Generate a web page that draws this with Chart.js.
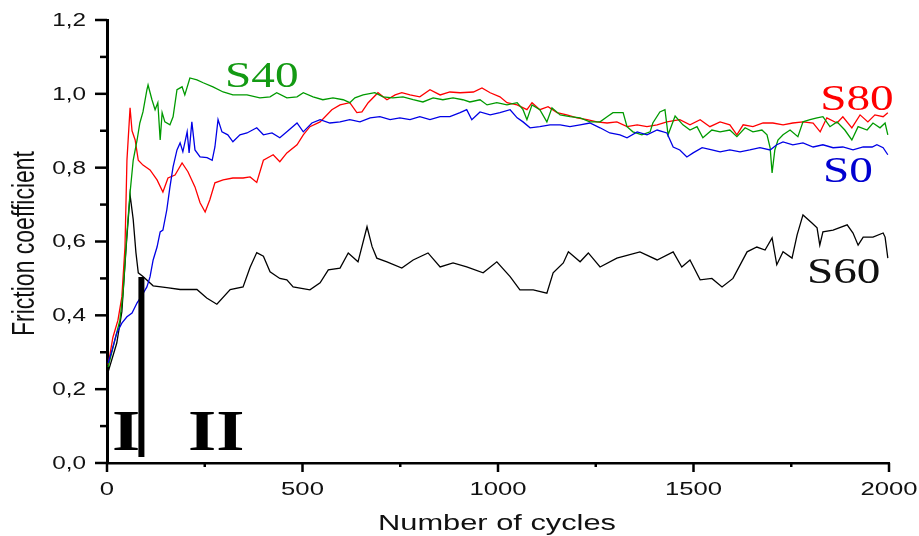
<!DOCTYPE html>
<html>
<head>
<meta charset="utf-8">
<script src="https://cdn.jsdelivr.net/npm/chart.js@4.4.1/dist/chart.umd.min.js"></script>
<style>
  html, body { margin: 0; padding: 0; background: #fff; }
  #wrap { width: 919px; height: 536px; position: relative; }
</style>
</head>
<body>
<div id="wrap"><canvas id="chart"></canvas></div>
<script>
// ---- data: [cycles, friction coefficient] ----
const s0 = [
  [3,0.271],[13,0.306],[25,0.352],[38,0.379],[51,0.396],[64,0.406],[77,0.434],[90,0.455],[102,0.477],[110,0.504],
  [118,0.55],[128,0.585],[136,0.626],[143,0.631],[153,0.686],[161,0.748],[169,0.802],[179,0.848],[187,0.867],[194,0.843],
  [205,0.897],[210,0.84],[217,0.924],[225,0.848],[238,0.829],[256,0.827],[269,0.82],[276,0.856],[284,0.93],[294,0.897],
  [309,0.889],[322,0.87],[340,0.889],[358,0.894],[383,0.908],[400,0.889],[422,0.894],[442,0.881],[460,0.897],[486,0.921],
  [502,0.897],[524,0.921],[545,0.93],[570,0.921],[596,0.924],[621,0.93],[647,0.924],[673,0.935],[698,0.938],[724,0.93],
  [749,0.935],[775,0.93],[800,0.938],[826,0.93],[852,0.938],[877,0.938],[903,0.949],[920,0.957],[933,0.93],[954,0.951],
  [980,0.943],[1005,0.949],[1031,0.957],[1049,0.935],[1064,0.924],[1082,0.908],[1107,0.911],[1133,0.916],[1159,0.916],[1184,0.911],
  [1210,0.916],[1235,0.921],[1261,0.908],[1286,0.894],[1312,0.889],[1330,0.881],[1356,0.897],[1381,0.889],[1407,0.902],[1432,0.894],
  [1448,0.856],[1465,0.848],[1483,0.829],[1499,0.84],[1522,0.854],[1547,0.848],[1568,0.843],[1593,0.848],[1619,0.843],[1644,0.848],
  [1670,0.854],[1696,0.848],[1713,0.862],[1729,0.87],[1754,0.862],[1780,0.867],[1806,0.856],[1831,0.862],[1857,0.854],[1882,0.856],
  [1908,0.848],[1934,0.856],[1957,0.856],[1969,0.862],[1985,0.854],[1997,0.835]
];

const s40 = [
  [3,0.26],[20,0.333],[33,0.387],[41,0.46],[51,0.623],[59,0.732],[67,0.82],[77,0.875],[84,0.921],[92,0.951],
  [102,1.011],[105,1.024],[115,0.984],[123,0.957],[130,0.976],[136,0.875],[141,0.949],[148,0.924],[161,0.916],[169,0.938],
  [179,1.011],[192,1.019],[199,0.997],[212,1.043],[230,1.038],[246,1.03],[271,1.019],[297,1.005],[322,0.997],[358,0.997],
  [391,0.989],[417,0.992],[434,1.003],[460,0.989],[486,0.992],[502,1.003],[527,0.992],[552,0.984],[578,0.989],[604,0.984],
  [621,0.976],[634,0.989],[655,0.997],[685,1.003],[706,0.992],[731,0.989],[757,0.992],[783,0.984],[808,0.978],[834,0.989],
  [859,0.984],[885,0.989],[910,0.984],[928,0.978],[954,0.984],[972,0.97],[997,0.976],[1023,0.97],[1049,0.976],[1064,0.957],
  [1074,0.93],[1087,0.97],[1107,0.957],[1125,0.924],[1138,0.962],[1159,0.943],[1184,0.938],[1210,0.935],[1235,0.924],[1261,0.924],
  [1279,0.938],[1294,0.949],[1320,0.949],[1330,0.911],[1345,0.897],[1368,0.889],[1389,0.897],[1396,0.921],[1414,0.951],[1427,0.957],
  [1435,0.889],[1453,0.94],[1473,0.916],[1491,0.902],[1509,0.911],[1524,0.881],[1547,0.902],[1568,0.897],[1593,0.902],[1611,0.884],
  [1632,0.908],[1652,0.897],[1675,0.902],[1688,0.889],[1696,0.854],[1701,0.786],[1708,0.848],[1716,0.875],[1729,0.889],[1747,0.902],
  [1767,0.884],[1780,0.924],[1798,0.93],[1816,0.935],[1831,0.938],[1849,0.911],[1867,0.924],[1887,0.902],[1905,0.875],[1921,0.911],
  [1944,0.902],[1959,0.921],[1977,0.908],[1990,0.921],[1997,0.889]
];

const s60 = [
  [3,0.247],[25,0.325],[38,0.41],[49,0.585],[59,0.726],[67,0.66],[74,0.57],[80,0.515],[92,0.505],[118,0.48],
  [153,0.475],[187,0.47],[230,0.47],[255,0.447],[281,0.43],[315,0.47],[348,0.477],[366,0.53],[383,0.57],[400,0.56],
  [417,0.518],[442,0.5],[460,0.496],[476,0.477],[519,0.469],[545,0.488],[566,0.523],[596,0.528],[617,0.569],[642,0.545],
  [665,0.64],[678,0.586],[690,0.555],[716,0.545],[754,0.528],[783,0.55],[821,0.569],[852,0.531],[885,0.542],[920,0.531],
  [962,0.515],[997,0.545],[1031,0.505],[1056,0.469],[1090,0.469],[1125,0.46],[1141,0.515],[1167,0.542],[1180,0.572],[1210,0.545],
  [1231,0.569],[1261,0.531],[1304,0.555],[1363,0.572],[1407,0.55],[1448,0.572],[1470,0.531],[1491,0.55],[1517,0.496],[1547,0.5],
  [1573,0.477],[1601,0.5],[1637,0.572],[1662,0.585],[1683,0.577],[1701,0.61],[1713,0.537],[1729,0.572],[1752,0.555],[1765,0.618],
  [1780,0.672],[1803,0.65],[1816,0.637],[1823,0.59],[1831,0.626],[1857,0.631],[1893,0.645],[1908,0.623],[1921,0.59],[1934,0.612],
  [1959,0.612],[1985,0.623],[1990,0.612],[1997,0.555]
];

const s80 = [
  [3,0.266],[15,0.34],[28,0.387],[38,0.45],[46,0.585],[51,0.82],[59,0.962],[64,0.9],[72,0.875],[80,0.82],
  [92,0.807],[110,0.794],[128,0.767],[143,0.734],[156,0.772],[174,0.78],[192,0.813],[207,0.789],[225,0.748],[238,0.705],
  [251,0.68],[263,0.713],[276,0.759],[297,0.767],[322,0.772],[348,0.772],[366,0.775],[383,0.76],[400,0.82],[425,0.835],
  [442,0.816],[460,0.84],[486,0.862],[502,0.889],[519,0.911],[545,0.924],[575,0.957],[596,0.97],[621,0.976],[639,0.949],
  [652,0.951],[668,0.976],[693,1.003],[716,0.984],[737,0.997],[754,1.003],[775,0.997],[800,0.992],[826,1.011],[852,0.997],
  [877,1.005],[903,1.003],[937,1.005],[959,1.016],[980,1.003],[1005,0.992],[1023,0.976],[1049,0.97],[1074,0.957],[1087,0.976],
  [1107,0.957],[1128,0.965],[1151,0.949],[1176,0.943],[1202,0.935],[1228,0.93],[1253,0.924],[1279,0.921],[1304,0.924],[1330,0.911],
  [1356,0.916],[1381,0.911],[1407,0.916],[1432,0.924],[1465,0.93],[1491,0.916],[1517,0.93],[1542,0.911],[1568,0.924],[1593,0.916],
  [1611,0.889],[1627,0.916],[1652,0.911],[1678,0.921],[1703,0.921],[1729,0.916],[1754,0.921],[1780,0.924],[1806,0.921],[1824,0.897],
  [1841,0.935],[1867,0.921],[1882,0.938],[1905,0.908],[1926,0.943],[1946,0.924],[1964,0.943],[1985,0.938],[1997,0.949]
];

// boundary between stage I and stage II
const stageBoundary = [[88,0.016],[88,0.504]];

// axis ticks
const xMajorTicks = [0, 500, 1000, 1500, 2000];
const xMinorTicks = [250, 750, 1250, 1750];
const xTickLabels = ['0', '500', '1000', '1500', '2000'];
const yMajorTicks = [0, 0.2, 0.4, 0.6, 0.8, 1.0, 1.2];
const yMinorTicks = [0.1, 0.3, 0.5, 0.7, 0.9, 1.1];
const yTickLabels = ['0,0', '0,2', '0,4', '0,6', '0,8', '1,0', '1,2'];

const toXY = arr => arr.map(p => ({ x: p[0], y: p[1] }));

// text labels inside the plot (anchored in data units)
const notes = [
  { text: 'S40', x: 302, y: 1.019, color: '#139a13', font: '35px "Liberation Serif"' },
  { text: 'S80', x: 1824, y: 0.957, color: '#ff0000', font: '35px "Liberation Serif"' },
  { text: 'S0',  x: 1831, y: 0.761, color: '#0000d0', font: '35px "Liberation Serif"' },
  { text: 'S60', x: 1790, y: 0.488, color: '#111111', font: '35px "Liberation Serif"' },
  { text: 'I',   x: 13,   y: 0.035, color: '#000000', font: 'bold 58px "Liberation Serif"' },
  { text: 'II',  x: 207,  y: 0.035, color: '#000000', font: 'bold 58px "Liberation Serif"' }
];

// the source figure is stretched sideways, so text is drawn wider than normal
function drawText(ctx, s, x, y, font, color, align, baseline, sx) {
  ctx.save();
  ctx.translate(x, y);
  ctx.scale(sx, 1);
  ctx.font = font;
  ctx.fillStyle = color;
  ctx.textAlign = align;
  ctx.textBaseline = baseline;
  ctx.fillText(s, 0, 0);
  ctx.restore();
}

const axisDecor = {
  id: 'axisDecor',
  afterDraw(chart) {
    const { ctx, chartArea } = chart;
    const xs = chart.scales.x, ys = chart.scales.y;
    const tick = (x1, y1, x2, y2) => {
      ctx.beginPath(); ctx.moveTo(x1, y1); ctx.lineTo(x2, y2); ctx.stroke();
    };
    ctx.save();
    ctx.strokeStyle = '#000';
    ctx.lineWidth = 2.5;
    yMajorTicks.forEach(v => { const p = ys.getPixelForValue(v); tick(chartArea.left - 12, p, chartArea.left, p); });
    yMinorTicks.forEach(v => { const p = ys.getPixelForValue(v); tick(chartArea.left - 7, p, chartArea.left, p); });
    xMajorTicks.forEach(v => { const p = xs.getPixelForValue(v); tick(p, chartArea.bottom, p, chartArea.bottom + 9); });
    xMinorTicks.forEach(v => { const p = xs.getPixelForValue(v); tick(p, chartArea.bottom, p, chartArea.bottom + 4); });
    ctx.restore();

    yMajorTicks.forEach((v, i) => {
      drawText(ctx, yTickLabels[i], chartArea.left - 21, ys.getPixelForValue(v) + 1,
        '18px "Liberation Sans"', '#111', 'right', 'middle', 1.35);
    });
    xMajorTicks.forEach((v, i) => {
      drawText(ctx, xTickLabels[i], xs.getPixelForValue(v), chartArea.bottom + 32,
        '19px "Liberation Sans"', '#111', 'center', 'alphabetic', 1.35);
    });

    // axis titles
    drawText(ctx, 'Number of cycles', (chartArea.left + chartArea.right) / 2 - 1, chartArea.bottom + 67,
      '22px "Liberation Sans"', '#111', 'center', 'alphabetic', 1.4);
    ctx.save();
    ctx.translate(25, (chartArea.top + chartArea.bottom) / 2 + 2);
    ctx.scale(1.35, 1);
    ctx.rotate(-Math.PI / 2);
    ctx.font = '23px "Liberation Sans"';
    ctx.fillStyle = '#111';
    ctx.textAlign = 'center';
    ctx.textBaseline = 'middle';
    ctx.fillText('Friction coefficient', 0, 0);
    ctx.restore();

    notes.forEach(n => {
      drawText(ctx, n.text, xs.getPixelForValue(n.x), ys.getPixelForValue(n.y),
        n.font, n.color, 'left', 'alphabetic', n.text.startsWith('I') ? 1.25 : 1.35);
    });
  }
};

const lineStyle = { pointRadius: 0, borderWidth: 1.3, tension: 0, fill: false };

new Chart(document.getElementById('chart'), {
  type: 'line',
  data: {
    datasets: [
      { label: 'boundary', data: toXY(stageBoundary), borderColor: '#000', pointRadius: 0, borderWidth: 6 },
      { label: 'S0',  data: toXY(s0),  borderColor: '#0000e6', ...lineStyle },
      { label: 'S40', data: toXY(s40), borderColor: '#009a00', ...lineStyle },
      { label: 'S80', data: toXY(s80), borderColor: '#ff0000', ...lineStyle },
      { label: 'S60', data: toXY(s60), borderColor: '#000000', ...lineStyle }
    ]
  },
  options: {
    responsive: true,
    maintainAspectRatio: false,
    animation: false,
    layout: { padding: { top: 20, right: 30, left: 0, bottom: 0 } },
    plugins: { legend: { display: false }, tooltip: { enabled: false } },
    scales: {
      x: {
        type: 'linear', min: 0, max: 2000,
        grid: { display: false },
        border: { display: true, color: '#000', width: 2.5 },
        ticks: { display: false },
        afterFit: s => { s.height = 73; }
      },
      y: {
        min: 0, max: 1.2,
        grid: { display: false },
        border: { display: true, color: '#000', width: 3 },
        ticks: { display: false },
        afterFit: s => { s.width = 107; }
      }
    }
  },
  plugins: [axisDecor]
});
</script>
</body>
</html>
